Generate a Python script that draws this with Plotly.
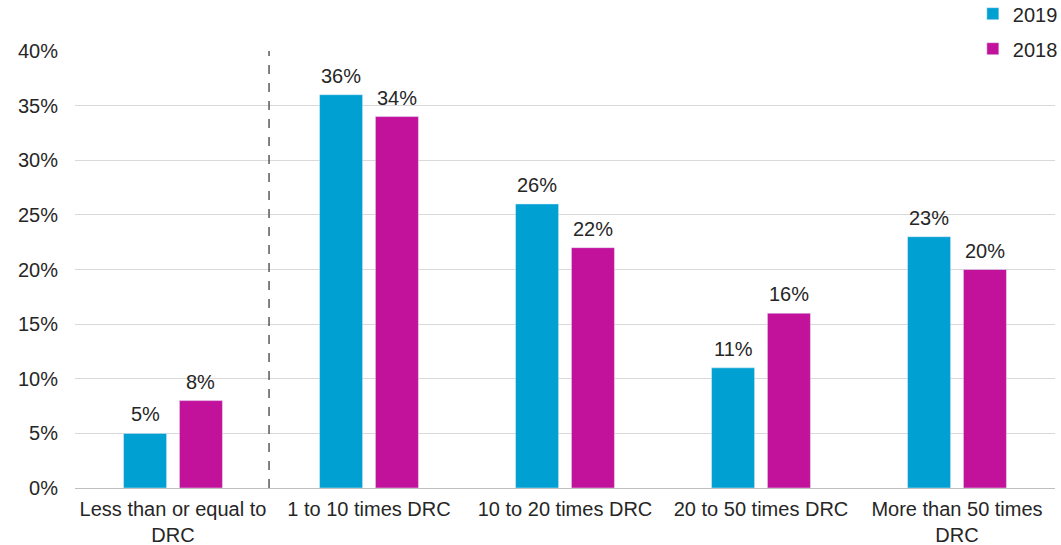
import plotly.graph_objects as go

categories = ["Less than or equal to<br>DRC", "1 to 10 times DRC", "10 to 20 times DRC",
              "20 to 50 times DRC", "More than 50 times<br>DRC"]
values_2019 = [0.05, 0.36, 0.26, 0.11, 0.23]
values_2018 = [0.08, 0.34, 0.22, 0.16, 0.20]
y_ticks = [0, 0.05, 0.10, 0.15, 0.20, 0.25, 0.30, 0.35, 0.40]

FONT = "Liberation Sans, Arial, sans-serif"
TEXT = "#262626"
FS = 20

BARGAP = 0.43
BARGROUPGAP = 0.23
slot = (1 - BARGAP) / 2  # width of one bar slot in category units

fig = go.Figure()
fig.add_trace(go.Bar(x=categories, y=values_2019, name="2019", legendgroup="a",
                     marker_color="#00A0D2"))
fig.add_trace(go.Bar(x=categories, y=values_2018, name="2018", legendgroup="b",
                     marker_color="#C2129C"))

# value labels above each bar
for offset, vals in ((-slot / 2, values_2019), (slot / 2, values_2018)):
    for i, v in enumerate(vals):
        fig.add_annotation(x=i + offset, y=v, xref="x", yref="y",
                           text=f"{v:.0%}", showarrow=False,
                           yanchor="bottom", yshift=6,
                           font=dict(size=FS, color=TEXT, family=FONT))

# dashed separator between the first group and the rest
fig.add_shape(type="line", xref="x", yref="y", x0=0.49, x1=0.49, y0=0, y1=0.40,
              line=dict(color="#595959", width=1.5, dash="dash"))

fig.update_layout(
    width=1061, height=545,
    margin=dict(l=75, r=6, t=51, b=57, autoexpand=False),
    paper_bgcolor="white", plot_bgcolor="white",
    barmode="group", bargap=BARGAP, bargroupgap=BARGROUPGAP,
    font=dict(family=FONT, size=FS, color=TEXT),
    showlegend=True,
    legend=dict(x=1.008, xanchor="right", y=1.13, yanchor="top",
                traceorder="grouped", tracegroupgap=6,
                font=dict(size=FS, color=TEXT), bgcolor="rgba(0,0,0,0)"),
)
fig.update_yaxes(
    range=[0, 0.40], tickvals=y_ticks, tickformat=".0%",
    showgrid=True, gridcolor="#D9D9D9", gridwidth=1,
    zeroline=True, zerolinecolor="#BFBFBF", zerolinewidth=1,
    showline=False, ticks="", ticklabelstandoff=16, automargin=False,
    tickfont=dict(size=FS, color=TEXT),
)
fig.update_xaxes(
    showline=False, ticks="", tickfont=dict(size=FS, color=TEXT),
    tickangle=0, ticklabelstandoff=7, automargin=False,
)

fig.write_html("out.html")
